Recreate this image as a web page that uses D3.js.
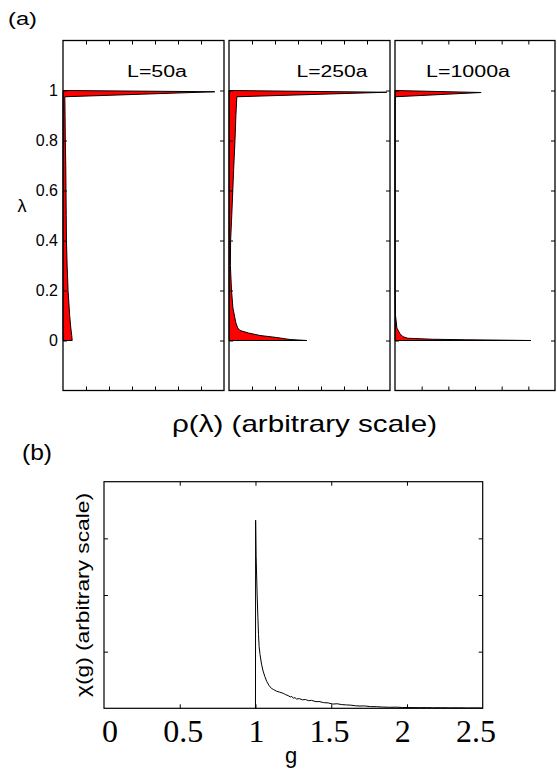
<!DOCTYPE html>
<html>
<head>
<meta charset="utf-8">
<script src="https://cdn.jsdelivr.net/npm/d3@7"></script>
<style>
  body { margin: 0; background: #fff; }
  svg text { font-family: Arial, "Liberation Sans", sans-serif; fill: #000; }
  .serif text { font-family: "Times New Roman", "Liberation Serif", serif; }
</style>
</head>
<body>
<svg width="557" height="774"></svg>
<script>
// ---- data ----
var lambdaTicks = [0, 0.2, 0.4, 0.6, 0.8, 1];
var panelNames = ["L=50a", "L=250a", "L=1000a"];

// [lambda, rho] pairs, rho in arbitrary units
var rho50 = [
  [0, 0.40], [0.02, 0.38], [0.05, 0.34], [0.1, 0.29], [0.2, 0.22], [0.3, 0.18],
  [0.4, 0.15], [0.5, 0.14], [0.6, 0.13], [0.7, 0.12], [0.8, 0.10], [0.9, 0.09],
  [0.975, 0.08], [0.995, 6.6], [1, 0]
];
var rho250 = [
  [0, 3.38], [0.004, 2.65], [0.012, 2.07], [0.02, 1.35], [0.03, 0.85], [0.04, 0.48],
  [0.05, 0.38], [0.07, 0.30], [0.093, 0.25], [0.13, 0.17], [0.2, 0.11], [0.3, 0.06],
  [0.4, 0.07], [0.5, 0.12], [0.68, 0.2], [0.8, 0.26], [0.9, 0.30], [0.975, 0.34],
  [0.993, 6.86], [1, 0]
];
var rho1000 = [
  [0, 5.1], [0.003, 2.65], [0.005, 1.4], [0.009, 0.48], [0.015, 0.3], [0.028, 0.18],
  [0.05, 0.07], [0.1, 0.02], [0.2, 0.005], [0.97, 0.005], [0.975, 0.02],
  [0.992, 3.23], [1, 0]
];

var gTicks = [0, 0.5, 1, 1.5, 2, 2.5];
var chiTicks = [1, 2, 3];
// [g, chi] pairs
var chi = [
  [1.000, 0], [1.001, 3.32], [1.004, 2.7], [1.008, 2.3], [1.011, 2.0], [1.016, 1.6],
  [1.020, 1.3], [1.024, 1.09], [1.030, 0.95], [1.040, 0.78], [1.050, 0.66], [1.062, 0.56],
  [1.075, 0.47], [1.090, 0.40], [1.106, 0.35], [1.12, 0.33], [1.14, 0.30], [1.16, 0.285],
  [1.183, 0.265], [1.20, 0.24], [1.215, 0.225], [1.23, 0.20], [1.24, 0.21], [1.25, 0.177],
  [1.26, 0.19], [1.27, 0.165], [1.29, 0.17], [1.31, 0.15], [1.33, 0.155], [1.35, 0.135],
  [1.37, 0.14], [1.40, 0.117], [1.42, 0.12], [1.45, 0.10], [1.48, 0.095], [1.51, 0.075],
  [1.54, 0.08], [1.57, 0.065], [1.60, 0.06], [1.63, 0.055], [1.66, 0.045], [1.69, 0.04],
  [1.72, 0.042], [1.76, 0.03], [1.80, 0.028], [1.84, 0.022], [1.886, 0.018], [1.93, 0.02],
  [1.97, 0.014], [2.02, 0.013], [2.08, 0.011], [2.13, 0.012], [2.17, 0.009], [2.22, 0.01],
  [2.28, 0.008], [2.34, 0.009], [2.40, 0.006], [2.46, 0.007], [2.5, 0.005]
];

var svg = d3.select("svg");

// ---- panel (a) ----
var aTop = 40.5, aBottom = 390.5;
var y = d3.scaleLinear().domain([-0.2, 1.2]).range([aBottom, aTop]);

var panels = [
  { data: rho50,   left: 63,  right: 224, max: 7, lx: 157, lw: 60 },
  { data: rho250,  left: 229, right: 390, max: 7, lx: 332, lw: 71 },
  { data: rho1000, left: 395, right: 555, max: 6, lx: 468, lw: 84 }
];

panels.forEach(function(p, i) {
  var x = d3.scaleLinear().domain([0, p.max]).range([p.left, p.right]);
  var g = svg.append("g");
  var xt = d3.range(1, p.max);

  var area = d3.area()
    .x0(x(0))
    .x1(d => x(d[1]))
    .y(d => y(d[0]));

  g.append("path")
    .datum(p.data)
    .attr("d", area)
    .attr("fill", "#ff0000")
    .attr("stroke", "#000")
    .attr("stroke-width", 1)
    .attr("stroke-linejoin", "round");

  var axT = g.append("g").attr("transform", `translate(0,${aTop})`)
    .call(d3.axisTop(x).tickValues(xt).tickSize(-4).tickFormat(""));
  var axB = g.append("g").attr("transform", `translate(0,${aBottom})`)
    .call(d3.axisBottom(x).tickValues(xt).tickSize(-4).tickFormat(""));
  var axL = g.append("g").attr("transform", `translate(${p.left},0)`)
    .call(d3.axisLeft(y).tickValues(lambdaTicks).tickSize(-4).tickPadding(5)
      .tickFormat(i === 0 ? d3.format("") : ""));
  var axR = g.append("g").attr("transform", `translate(${p.right},0)`)
    .call(d3.axisRight(y).tickValues(lambdaTicks).tickSize(-4).tickFormat(""));

  [axT, axB, axL, axR].forEach(function(a) {
    a.select(".domain").remove();
    a.selectAll("line").attr("stroke", "#000");
  });
  axL.selectAll("text").attr("font-size", 16).attr("font-family", "Arial, 'Liberation Sans', sans-serif");

  g.append("rect")
    .attr("x", p.left).attr("y", aTop)
    .attr("width", p.right - p.left).attr("height", aBottom - aTop)
    .attr("fill", "none").attr("stroke", "#000").attr("stroke-width", 1.3);

  g.append("text")
    .attr("x", p.lx).attr("y", 76.5)
    .attr("text-anchor", "middle")
    .attr("font-size", 16)
    .attr("textLength", p.lw).attr("lengthAdjust", "spacingAndGlyphs")
    .text(panelNames[i]);
});

svg.append("text").attr("x", 8).attr("y", 25).attr("font-size", 17.5)
  .attr("textLength", 29).attr("lengthAdjust", "spacingAndGlyphs").text("(a)");
svg.append("text").attr("x", 22).attr("y", 212).attr("text-anchor", "middle")
  .attr("font-size", 18).text("λ");
svg.append("text").attr("x", 304.5).attr("y", 431.5).attr("text-anchor", "middle")
  .attr("font-size", 24)
  .attr("textLength", 265).attr("lengthAdjust", "spacingAndGlyphs")
  .text("ρ(λ)  (arbitrary scale)");

// ---- panel (b) ----
var bl = 104, br = 482.7, bt = 481.7, bb = 708.3;
var gx = d3.scaleLinear().domain([0, 2.5]).range([bl, br]);
var gy = d3.scaleLinear().domain([0, 4]).range([bb, bt]);
var labelX = d3.scaleLinear().domain([0, 2.5]).range([110, 476]);

var gb = svg.append("g");
gb.append("path")
  .datum(chi)
  .attr("d", d3.line().x(d => gx(d[0])).y(d => gy(d[1])))
  .attr("fill", "none")
  .attr("stroke", "#000")
  .attr("stroke-width", 1);

var inner = [0.5, 1, 1.5, 2];
var bAxes = [
  gb.append("g").attr("transform", `translate(0,${bt})`)
    .call(d3.axisTop(gx).tickValues(inner).tickSize(-4).tickFormat("")),
  gb.append("g").attr("transform", `translate(0,${bb})`)
    .call(d3.axisBottom(gx).tickValues(inner).tickSize(-4).tickFormat("")),
  gb.append("g").attr("transform", `translate(${bl},0)`)
    .call(d3.axisLeft(gy).tickValues(chiTicks).tickSize(-4).tickFormat("")),
  gb.append("g").attr("transform", `translate(${br},0)`)
    .call(d3.axisRight(gy).tickValues(chiTicks).tickSize(-4).tickFormat(""))
];
bAxes.forEach(function(a) {
  a.select(".domain").remove();
  a.selectAll("line").attr("stroke", "#000");
});

gb.append("rect")
  .attr("x", bl).attr("y", bt)
  .attr("width", br - bl).attr("height", bb - bt)
  .attr("fill", "none").attr("stroke", "#000").attr("stroke-width", 1.2);

gb.append("g").attr("class", "serif")
  .selectAll("text")
  .data(gTicks)
  .join("text")
  .attr("x", d => labelX(d))
  .attr("y", 742)
  .attr("text-anchor", "middle")
  .attr("font-size", 32)
  .text(d => d);

svg.append("text").attr("x", 22).attr("y", 460).attr("font-size", 22)
  .attr("textLength", 30).attr("lengthAdjust", "spacingAndGlyphs").text("(b)");
svg.append("text").attr("x", 291).attr("y", 763).attr("text-anchor", "middle")
  .attr("font-size", 22).text("g");
svg.append("text")
  .attr("transform", "translate(89,595) rotate(-90)")
  .attr("text-anchor", "middle")
  .attr("font-size", 18)
  .attr("textLength", 204).attr("lengthAdjust", "spacingAndGlyphs")
  .text("χ(g) (arbitrary scale)");
</script>
</body>
</html>
